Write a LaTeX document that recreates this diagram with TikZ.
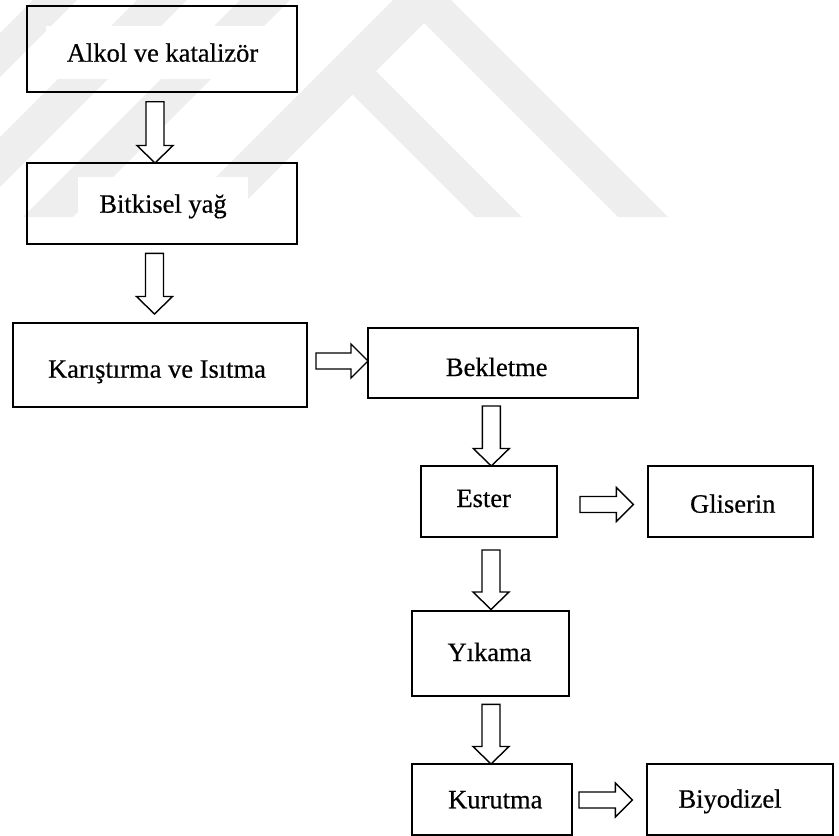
\documentclass[tikz,border=0pt]{standalone}
\usepackage{fontspec}
\setmainfont{Liberation Serif}
\newfontfamily\lblfont{Liberation Serif}[FakeBold=0.5]
\usetikzlibrary{calc}
\definecolor{wm}{gray}{0.935}

% block arrow pointing down: x, source, target, gap below source, gap above target
\newcommand\flowdown[5]{%
  \draw[blk] let \p1=(#2.south), \p2=(#3.north) in
    ({(#1-9)*1pt},{\y1-#4pt}) -- ({(#1+9)*1pt},{\y1-#4pt})
    -- ({(#1+9)*1pt},{\y2+(#5+17.5)*1pt}) -- ({(#1+18)*1pt},{\y2+(#5+17.5)*1pt})
    -- ({#1*1pt},{\y2+#5pt})
    -- ({(#1-18)*1pt},{\y2+(#5+17.5)*1pt}) -- ({(#1-9)*1pt},{\y2+(#5+17.5)*1pt}) -- cycle;}

% block arrow pointing right: y, source, target, gap after source, gap before target
\newcommand\flowright[5]{%
  \draw[blk] let \p1=(#2.east), \p2=(#3.west) in
    ({\x1+#4pt},{-(#1-8)*1pt}) -- ({\x2-(#5+17)*1pt},{-(#1-8)*1pt})
    -- ({\x2-(#5+17)*1pt},{-(#1-17)*1pt})
    -- ({\x2-#5pt},{-#1pt})
    -- ({\x2-(#5+17)*1pt},{-(#1+17)*1pt}) -- ({\x2-(#5+17)*1pt},{-(#1+8)*1pt})
    -- ({\x1+#4pt},{-(#1+8)*1pt}) -- cycle;}

\begin{document}
\begin{tikzpicture}[x=1pt,y=-1pt,
  box/.style={draw=black,line width=1.8pt,rectangle,inner sep=0pt,outer sep=0pt},
  lbl/.style={fill=white,anchor=base,inner xsep=21pt,inner ysep=17pt,
              font=\lblfont\fontsize{26.5}{31}\selectfont},
  blk/.style={draw=black,fill=white,line width=1.4pt,line join=miter}]

\useasboundingbox (0,0) rectangle (839,836);

% faint background emblem
\begin{scope}
  \clip (0,0) rectangle (839,217);
  \fill[wm] (33,0) -- (77,0) -- (-140,217) -- (-184,217) -- cycle;
  \fill[wm] (137,0) -- (187,0) -- (-30,217) -- (-80,217) -- cycle;
  \fill[wm] (240,0) -- (290,0) -- (73,217) -- (23,217) -- cycle;
  \fill[wm] (393,0) -- (447,0) -- (230,217) -- (176,217) -- cycle;
  \fill[wm] (422,-29) -- (668,217) -- (618,217) -- (423,22) -- cycle;
  \fill[wm] (349,44) -- (522,217) -- (475,217) -- (349.5,91.5) -- cycle;
\end{scope}

% labels
\node[lbl] (lA)  at (162.5,61.7) {Alkol ve katalizör};
\node[lbl] (lB)  at (163,212.7)  {Bitkisel yağ};
\node[lbl] (lK)  at (157,377.7)  {Karıştırma ve Isıtma};
\node[lbl] (lBk) at (496.7,376)  {Bekletme};
\node[lbl] (lE)  at (483.7,507)  {Ester};
\node[lbl] (lG)  at (732.8,512.7) {Gliserin};
\node[lbl] (lY)  at (489.5,661)  {Yıkama};
\node[lbl] (lKu) at (495.3,808.3) {Kurutma};
\node[lbl] (lBi) at (730,807.7)  {Biyodizel};

% process boxes
\node[box,minimum width=270pt,minimum height=86pt] (A)  at (162,49)    {};
\node[box,minimum width=270pt,minimum height=81pt] (B)  at (162,203.5) {};
\node[box,minimum width=294pt,minimum height=84pt] (K)  at (160,365)   {};
\node[box,minimum width=270pt,minimum height=70pt] (Bk) at (503,363)   {};
\node[box,minimum width=136pt,minimum height=71pt] (E)  at (489,501.5) {};
\node[box,minimum width=165pt,minimum height=71pt] (G)  at (730.5,501.5) {};
\node[box,minimum width=157pt,minimum height=85pt] (Y)  at (490.5,653.5) {};
\node[box,minimum width=160pt,minimum height=71pt] (Ku) at (492,799.5) {};
\node[box,minimum width=186pt,minimum height=71pt] (Bi) at (740,799.5) {};

% block arrows
\flowdown{155}{A}{B}{9.7}{0}
\flowdown{154.5}{B}{K}{9.3}{9}
\flowright{361}{K}{Bk}{9}{0}
\flowdown{491.3}{Bk}{E}{8}{0}
\flowright{504.5}{E}{G}{23}{14.7}
\flowdown{491}{E}{Y}{13}{1.5}
\flowdown{491}{Y}{Ku}{8.3}{0}
\flowright{800}{Ku}{Bi}{7}{14.7}

\end{tikzpicture}
\end{document}
